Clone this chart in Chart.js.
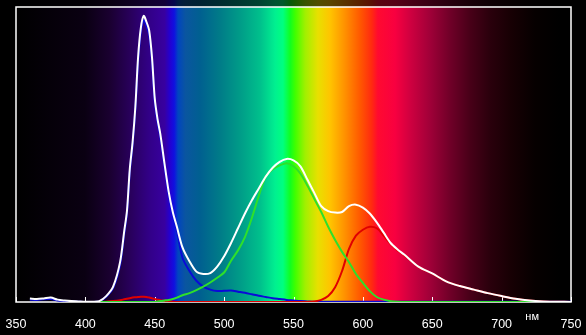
<!DOCTYPE html>
<html>
<head>
<meta charset="utf-8">
<script src="https://cdn.jsdelivr.net/npm/chart.js@4/dist/chart.umd.min.js"></script>
<style>
  html, body { margin: 0; padding: 0; background: #000; }
  #wrap { width: 586px; height: 335px; }
</style>
</head>
<body>
<div id="wrap"><canvas id="myChart"></canvas></div>
<script>
// wavelength, nm
const wavelengths = [360, 365, 370, 375, 380, 385, 390, 395, 400, 405, 410, 415, 420, 425, 428, 430, 432, 434, 436, 438,
    440, 442, 444, 446, 448, 450, 452, 454, 457, 460, 463, 466, 470, 475, 480, 485, 490, 495, 500, 505,
    510, 515, 520, 525, 530, 535, 540, 545, 550, 555, 560, 565, 570, 575, 580, 585, 590, 595, 600, 605,
    610, 615, 620, 625, 630, 640, 650, 660, 670, 680, 690, 700, 710, 720, 730, 740, 750];

const whiteValues = [1.2, 1.0, 1.2, 1.5, 0.8, 0.5, 0.3, 0.2, 0.1, 0.1, 0.3, 2.0, 5.2, 13.5, 24, 31, 45, 54, 66, 83,
    93, 97, 95, 92, 83, 69, 62, 57, 47, 37.5, 30.5, 25.4, 18.5, 13.8, 10.3, 9.5, 9.8, 12, 15.5, 20,
    25, 30, 34.5, 38.5, 42.5, 45.5, 47.5, 48.5, 48, 46, 41.5, 37, 32.5, 30.8, 30.3, 30.5, 32.5, 33, 32, 30,
    27, 23.5, 20, 17.8, 16, 12, 9.7, 7, 5.4, 4.2, 3, 2, 1.1, 0.5, 0.2, 0.1, 0];

const greenValues = [null, null, null, null, null, null, null, null, null, null, 0, 0, 0, 0, 0, 0, 0, 0, 0, 0,
    0, 0, 0, 0, 0, 0, 0.2, 0.3, 0.5, 0.7, 1.0, 1.5, 2.3, 3, 4, 5.2, 6.6, 8.2, 10, 14,
    17.5, 22, 28.5, 36, 42.5, 45, 46.3, 47, 46, 43.5, 39.5, 35, 30.5, 25.5, 21, 17, 13.5, 9.5, 6.5, 3.7,
    1.7, 0.8, 0.3, 0.1, 0, 0, 0, 0, 0, 0, 0, 0, 0, 0, 0, 0, 0];

const blueValues = [0.8, 0.7, 0.9, 1.0, 0.5, 0.3, 0.2, 0.1, 0, 0, 0.2, 1.8, 4.7, 12.5, 23, 30, 44, 53, 65, 81.5,
    91.5, 95.5, 93.5, 90.5, 82, 68, 61, 56, 46, 36.5, 29.5, 24, 15, 10.5, 7.2, 5.2, 4.2, 3.7, 3.8, 3.9,
    3.5, 3.1, 2.6, 2.1, 1.7, 1.3, 1.0, 0.7, 0.5, 0.3, 0.2, 0.1, 0.1, 0.1, 0.1, 0.1, 0.1, 0.1, 0.1, 0.1,
    0.1, 0.1, 0.1, 0.1, 0.1, 0.1, 0.1, 0.1, 0.1, 0.1, 0.1, 0.1, 0.1, 0.1, 0.1, 0.1, 0.1];

const redValues = [null, null, null, null, null, null, null, null, null, null, 0, 0.1, 0.3, 0.6, 0.9, 1.1, 1.3, 1.5, 1.6, 1.7,
    1.8, 1.8, 1.7, 1.5, 1.3, 1.0, 0.8, 0.6, 0.4, 0.2, 0.1, 0, 0, 0, 0, 0, 0, 0, 0, 0,
    0, 0, 0, 0, 0, 0, 0, 0, 0, 0, 0, 0.2, 0.7, 2, 5, 10.5, 18, 22.5, 24.5, 25.5,
    25, 22.5, 19.6, 17.5, 15.8, 11.9, 9.6, 7, 5.4, 4.2, 3, 2, 1.1, 0.5, 0.2, 0.1, 0];

const axisTicks = [350, 400, 450, 500, 550, 600, 650, 700, 750];

// spectrum colours behind the plot (fraction of width, colour)
const spectrumStops = [
    [0.000, '#000000'], [0.124, '#0a0012'], [0.169, '#1a0030'], [0.205, '#28005a'], [0.241, '#320088'],
    [0.268, '#3800a0'], [0.277, '#2400d0'], [0.285, '#1010e0'], [0.292, '#0045c0'], [0.305, '#0a55a0'],
    [0.332, '#006090'], [0.368, '#007c88'], [0.404, '#009c88'], [0.440, '#00c08c'], [0.467, '#00f090'],
    [0.481, '#00ff80'], [0.494, '#10ff20'], [0.503, '#40ff00'], [0.521, '#a0f000'], [0.544, '#e8e000'],
    [0.566, '#ffc400'], [0.593, '#ff9000'], [0.620, '#ff5800'], [0.641, '#ff2a10'], [0.652, '#ff0a30'],
    [0.683, '#f80040'], [0.710, '#d00040'], [0.746, '#a00038'], [0.782, '#700028'], [0.818, '#480018'],
    [0.854, '#2a000c'], [0.890, '#180004'], [0.935, '#060000'], [0.980, '#000000']
];

function toPoints(vals) {
    return wavelengths.map(function (w, i) { return { x: w, y: vals[i] }; });
}

const spectrumPlugin = {
    id: 'spectrum',
    beforeDraw: function (chart) {
        const ctx = chart.ctx;
        const a = chart.chartArea;
        const g = ctx.createLinearGradient(a.left, 0, a.right, 0);
        spectrumStops.forEach(function (s) { g.addColorStop(s[0], s[1]); });
        ctx.save();
        ctx.fillStyle = '#000';
        ctx.fillRect(0, 0, chart.width, chart.height);
        ctx.globalAlpha = 0.35;
        ctx.fillStyle = g;
        ctx.fillRect(a.left, 0, a.right - a.left, a.top);
        ctx.globalAlpha = 1;
        ctx.fillRect(a.left, a.top, a.right - a.left, a.bottom - a.top);
        ctx.restore();
    },
    beforeDatasetsDraw: function (chart) {
        const ctx = chart.ctx;
        const a = chart.chartArea;
        const xs = chart.scales.x;
        ctx.save();
        ctx.strokeStyle = '#fff';
        ctx.lineWidth = 1.5;
        ctx.strokeRect(a.left, a.top, a.right - a.left, a.bottom - a.top);
        ctx.lineWidth = 1;
        axisTicks.forEach(function (t) {
            const px = Math.round(xs.getPixelForValue(t)) + 0.5;
            ctx.beginPath();
            ctx.moveTo(px, a.bottom);
            ctx.lineTo(px, a.bottom - 5);
            ctx.stroke();
        });
        ctx.fillStyle = '#fff';
        ctx.font = '11px "Liberation Sans", Arial, sans-serif';
        ctx.textAlign = 'center';
        ctx.textBaseline = 'alphabetic';
        ctx.fillText('нм', xs.getPixelForValue(722), a.bottom + 18);
        ctx.restore();
    }
};

const data = {
    datasets: [{
        label: 'white',
        data: toPoints(whiteValues),
        borderColor: '#ffffff',
        borderWidth: 2
    }, {
        label: 'green',
        data: toPoints(greenValues),
        borderColor: '#2ee02a',
        borderWidth: 2
    }, {
        label: 'red',
        data: toPoints(redValues),
        borderColor: '#e00000',
        borderWidth: 2
    }, {
        label: 'blue',
        data: toPoints(blueValues),
        borderColor: '#0a0ad8',
        borderWidth: 2
    }]
};

const config = {
    type: 'line',
    data: data,
    options: {
        responsive: true,
        maintainAspectRatio: false,
        animation: false,
        layout: { padding: { left: 16, right: 15, top: 7, bottom: 0 } },
        elements: {
            point: { radius: 0 },
            line: { tension: 0.3, fill: false }
        },
        plugins: {
            legend: { display: false },
            tooltip: { enabled: false }
        },
        scales: {
            x: {
                type: 'linear',
                min: 350,
                max: 750,
                border: { display: false },
                grid: { display: false, drawTicks: false },
                afterFit: function (scale) {
                    scale.height = 33;
                    scale.paddingLeft = 0;
                    scale.paddingRight = 0;
                },
                ticks: {
                    stepSize: 50,
                    padding: 15,
                    color: '#ffffff',
                    maxRotation: 0,
                    font: { family: '"Liberation Sans", Arial, sans-serif', size: 12.5 }
                }
            },
            y: {
                display: false,
                min: 0,
                max: 100
            }
        }
    },
    plugins: [spectrumPlugin]
};

const myChart = new Chart(
    document.getElementById('myChart'),
    config
);
</script>
</body>
</html>
